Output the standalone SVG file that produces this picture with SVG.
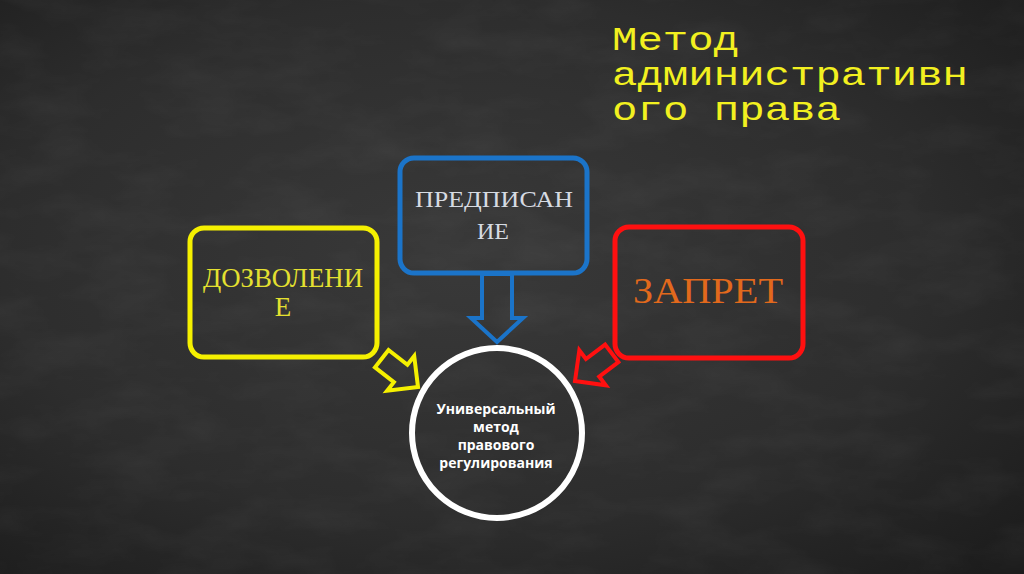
<svg xmlns="http://www.w3.org/2000/svg" width="1024" height="574" viewBox="0 0 1024 574">
  <defs>
    <radialGradient id="bg" cx="0.45" cy="0.45" r="0.75">
      <stop offset="0" stop-color="#393939"/>
      <stop offset="0.6" stop-color="#2d2d2d"/>
      <stop offset="1" stop-color="#1c1c1c"/>
    </radialGradient>
    <filter id="chalk" x="0" y="0" width="100%" height="100%">
      <feTurbulence type="fractalNoise" baseFrequency="0.012 0.03" numOctaves="4" seed="7" result="n"/>
      <feColorMatrix type="matrix" values="0 0 0 0 1  0 0 0 0 1  0 0 0 0 1  0 0 0 0.9 -0.35"/>
    </filter>
    <style>
      .box { fill: none; stroke-width: 5; }
      .arrow { fill: none; stroke-width: 4; stroke-linejoin: miter; }
      .lbl { font-family: "Liberation Serif", "DejaVu Serif", serif; text-anchor: middle; }
      .title { font-family: "Liberation Mono", "DejaVu Sans Mono", monospace; font-size: 34px; fill: #f2f020; }
      .core { font-family: "Open Sans", "Liberation Sans", sans-serif; font-weight: bold; font-size: 14px; fill: #ffffff; text-anchor: middle; }
    </style>
  </defs>
  <rect width="1024" height="574" fill="url(#bg)"/>
  <rect width="1024" height="574" filter="url(#chalk)" opacity="0.08"/>

  <g id="title">
    <text class="title" x="612" y="50" textLength="127" lengthAdjust="spacingAndGlyphs">Метод</text>
    <text class="title" x="612" y="85" textLength="356" lengthAdjust="spacingAndGlyphs">административн</text>
    <text class="title" x="612" y="120" textLength="229" lengthAdjust="spacingAndGlyphs">ого права</text>
  </g>

  <g id="connectors">
    <polygon class="arrow" stroke="#1b74c9" points="482,274 482,318 471,318 497,342 523,318 512,318 512,274"/>
    <polygon class="arrow" stroke="#f5f000" transform="translate(418,387) rotate(38)" points="-46,-11 -22,-11 -22,-22 0,0 -22,22 -22,11 -46,11"/>
    <polygon class="arrow" stroke="#ff1010" transform="translate(575,381) rotate(143)" points="-46,-11 -22,-11 -22,-22 0,0 -22,22 -22,11 -46,11"/>
  </g>

  <g id="node-dozvolenie">
    <rect class="box" stroke="#f5f000" x="190" y="228" width="187" height="129" rx="14"/>
    <text class="lbl" fill="#e4e030" font-size="27" x="283" y="287" textLength="160" lengthAdjust="spacingAndGlyphs">ДОЗВОЛЕНИ</text>
    <text class="lbl" fill="#e4e030" font-size="27" x="283" y="316">Е</text>
  </g>

  <g id="node-predpisanie">
    <rect class="box" stroke="#1b74c9" x="400" y="158" width="187" height="115" rx="14"/>
    <text class="lbl" fill="#d6dbe2" font-size="24" x="494" y="207" textLength="158" lengthAdjust="spacingAndGlyphs">ПРЕДПИСАН</text>
    <text class="lbl" fill="#d6dbe2" font-size="24" x="493" y="239">ИЕ</text>
  </g>

  <g id="node-zapret">
    <rect class="box" stroke="#ff1010" x="615" y="227" width="188" height="131" rx="14"/>
    <text class="lbl" fill="#e2691c" font-size="36" x="708" y="303" textLength="150" lengthAdjust="spacingAndGlyphs">ЗАПРЕТ</text>
  </g>

  <g id="node-core">
    <circle cx="497" cy="433" r="85" fill="none" stroke="#ffffff" stroke-width="6"/>
    <text class="core" x="496" y="414">Универсальный</text>
    <text class="core" x="496" y="432">метод</text>
    <text class="core" x="496" y="450">правового</text>
    <text class="core" x="496" y="468">регулирования</text>
  </g>
</svg>
